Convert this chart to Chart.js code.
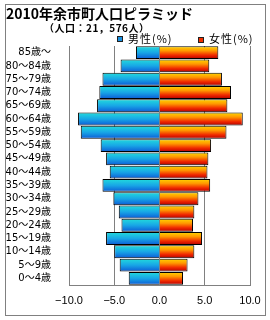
<!DOCTYPE html>
<html>
<head>
<meta charset="utf-8">
<script src="https://cdn.jsdelivr.net/npm/chart.js@4"></script>
<style>
    body { margin: 0; background: #fff; }
    #wrap { position: relative; width: 270px; height: 320px; font-family: 'Noto Sans CJK JP', sans-serif; color: #000; }
    #frame { position: absolute; left: 5px; top: 4px; width: 259px; height: 310px; border: 1px solid #808080; }
    #pyramid { position: absolute; left: 0; top: 0; }
    .txt { position: absolute; white-space: nowrap; }
    .title { left: 6px; top: 5px; font-size: 14px; line-height: 16px; font-weight: bold; }
    .sub { left: 44px; top: 22px; font-size: 10px; line-height: 11px; font-weight: bold; letter-spacing: 0.5px; }
    .legend { top: 32px; font-size: 11px; line-height: 12px; letter-spacing: 1px; }
    .swatch { position: absolute; width: 4px; height: 4px; border: 1px solid #202020; }
</style>
</head>
<body>
<div id="wrap">
    <div id="frame"></div>
    <canvas id="pyramid" width="270" height="320"></canvas>
    <div class="txt title">2010年余市町人口ピラミッド</div>
    <div class="txt sub">（人口：21，576人）</div>
    <div class="swatch" style="left:117px;top:36px;background:#1890e0"></div>
    <div class="txt legend" style="left:128px">男性(%)</div>
    <div class="swatch" style="left:198px;top:37px;background:#f03000"></div>
    <div class="txt legend" style="left:209px">女性(%)</div>
</div>
<script>
// données (en %)
const ageLabels = ['85歳～', '80～84歳', '75～79歳', '70～74歳', '65～69歳', '60～64歳', '55～59歳',
    '50～54歳', '45～49歳', '40～44歳', '35～39歳', '30～34歳', '25～29歳', '20～24歳',
    '15～19歳', '10～14歳', '5～9歳', '0～4歳'];
const maleValues = [-2.6, -4.3, -6.3, -6.65, -6.9, -9.0, -8.7, -6.5, -5.9, -5.5, -6.3, -5.1, -4.5, -4.2, -5.9, -5.0, -4.4, -3.4];
const femaleValues = [6.5, 5.5, 6.9, 7.9, 7.5, 9.2, 7.4, 5.7, 5.4, 5.3, 5.6, 4.3, 3.85, 3.7, 4.7, 3.85, 3.1, 2.6];
const xTicks = [-10, -5, 0, 5, 10];

const maleStops = [[0, '#22dcdc'], [0.5, '#18a6e6'], [1, '#0c5ad6']];
const femaleStops = [[0, '#ffd800'], [0.35, '#ff9800'], [0.7, '#f02800'], [1, '#b00000']];
const barPct = 0.97;

function barGradient(context, stops) {
    const chart = context.chart;
    const yScale = chart.scales.y;
    if (!chart.chartArea || !yScale) return stops[1][1];
    const yc = yScale.getPixelForValue(context.dataIndex);
    const half = yScale.height / ageLabels.length * barPct / 2;
    const g = chart.ctx.createLinearGradient(0, yc - half, 0, yc + half);
    stops.forEach(([pos, col]) => g.addColorStop(pos, col));
    return g;
}

function fmtTick(v) {
    return (v < 0 ? '−' : '') + Math.abs(v).toFixed(1);
}

new Chart(document.getElementById('pyramid'), {
    type: 'bar',
    data: {
        labels: ageLabels,
        datasets: [{
            label: '男性(%)',
            data: maleValues,
            backgroundColor: c => barGradient(c, maleStops),
            borderColor: '#000',
            borderWidth: 1
        }, {
            label: '女性(%)',
            data: femaleValues,
            backgroundColor: c => barGradient(c, femaleStops),
            borderColor: '#000',
            borderWidth: 1
        }]
    },
    options: {
        indexAxis: 'y',
        responsive: false,
        animation: false,
        barPercentage: barPct,
        categoryPercentage: 1,
        layout: { padding: { left: 5, right: 20, top: 46, bottom: 10 } },
        plugins: { legend: { display: false }, tooltip: { enabled: false } },
        scales: {
            x: {
                stacked: true,
                min: xTicks[0],
                max: xTicks[xTicks.length - 1],
                afterBuildTicks: s => { s.ticks = xTicks.map(v => ({ value: v })); },
                afterFit: s => { s.height = 25; },
                grid: { color: '#808080', drawTicks: false },
                border: { color: '#808080' },
                ticks: {
                    padding: 9,
                    color: '#000',
                    font: { family: "'Liberation Sans', Arial, sans-serif", size: 11 },
                    callback: v => fmtTick(v)
                }
            },
            y: {
                stacked: true,
                afterFit: s => { s.width = 64; },
                grid: { display: false },
                border: { color: '#808080' },
                ticks: {
                    padding: 10,
                    autoSkip: false,
                    color: '#000',
                    font: { family: "'DejaVu Sans', 'Noto Sans CJK JP', sans-serif", size: 10 }
                }
            }
        }
    }
});
</script>
</body>
</html>
